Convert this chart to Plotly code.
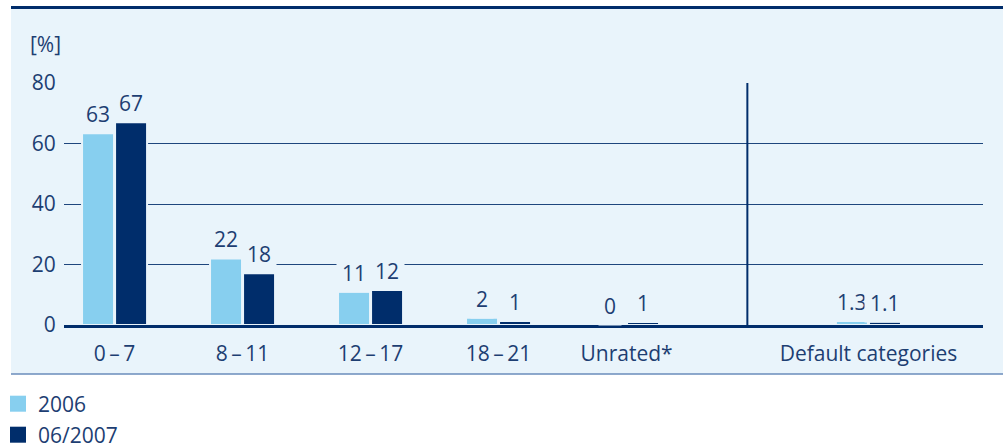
import plotly.graph_objects as go

# ---- data ----
categories = ["0\u2009\u2013\u20097", "8\u2009\u2013\u200911", "12\u2009\u2013\u200917",
              "18\u2009\u2013\u200921", "Unrated*", "Default categories"]
series_names = ["2006", "06/2007"]
values_2006 = [63.4, 22.0, 11.0, 2.4, 0.0, 1.3]
values_2007 = [67.0, 17.1, 11.6, 1.3, 1.0, 1.1]
labels_2006 = ["63", "22", "11", "2", "0", "1.3"]
labels_2007 = ["67", "18", "12", "1", "1", "1.1"]
y_ticks = [0, 20, 40, 60, 80]
y_unit = "[%]"

# ---- layout / style ----
x_positions = [0, 1, 2, 3, 4, 5.89]
separator_x = 4.944
LIGHT = "#87CFEF"
DARK = "#002D6B"
PANEL = "#E9F4FB"
TEXT = "#1D3E72"
GRID = "#1E467D"
FONT = "Open Sans"
FS = 21
BAR_W = 0.25
OFF_L = -0.254
OFF_D = 0.004

W, H = 1003, 448
ML, MR, MT, MB = 64, 20, 83, 123
pw = W - ML - MR
ph = H - MT - MB


def px_x(px):
    return (px - ML) / pw


def px_y(py):
    return (H - MB - py) / ph


def outline_widths(vals):
    return [0 if v == 0 else 2 for v in vals]


fig = go.Figure()
fig.add_bar(x=x_positions, y=values_2006, width=BAR_W, offset=OFF_L, name=series_names[0],
            marker=dict(color=LIGHT, line=dict(color=PANEL, width=outline_widths(values_2006))),
            showlegend=False, hoverinfo="skip")
fig.add_bar(x=x_positions, y=values_2007, width=BAR_W, offset=OFF_D, name=series_names[1],
            marker=dict(color=DARK, line=dict(color=PANEL, width=outline_widths(values_2007))),
            showlegend=False, hoverinfo="skip")

annotations = []
for xs, vals, labs, off in [(x_positions, values_2006, labels_2006, OFF_L),
                            (x_positions, values_2007, labels_2007, OFF_D)]:
    for x, v, t in zip(xs, vals, labs):
        annotations.append(dict(x=x + off + BAR_W / 2, y=v, xref="x", yref="y", text=t,
                                showarrow=False, yanchor="bottom", yshift=-1,
                                bgcolor=PANEL, borderpad=5,
                                font=dict(family=FONT, size=FS, color=TEXT)))
annotations.append(dict(x=px_x(28), y=px_y(44), xref="paper", yref="paper", text=y_unit,
                        showarrow=False, xanchor="left", yanchor="middle",
                        font=dict(family=FONT, size=FS, color=TEXT)))

shapes = [
    dict(type="rect", xref="paper", yref="paper", x0=px_x(11), x1=px_x(1004),
         y0=px_y(374), y1=px_y(9), fillcolor=PANEL, line=dict(width=0), layer="below"),
    dict(type="line", xref="paper", yref="paper", x0=px_x(11), x1=px_x(1004),
         y0=px_y(7.5), y1=px_y(7.5), line=dict(color=DARK, width=3)),
    dict(type="line", xref="paper", yref="paper", x0=px_x(11), x1=px_x(1004),
         y0=px_y(374), y1=px_y(374), line=dict(color="#6A8CBB", width=1.5)),
    dict(type="line", xref="x", yref="y", x0=separator_x, x1=separator_x,
         y0=0, y1=y_ticks[-1], line=dict(color=DARK, width=2)),
]

# manual legend (squares + labels) below the panel
legend_rows = [403.7, 434.7]
for nm, col, cy in zip(series_names, [LIGHT, DARK], legend_rows):
    shapes.append(dict(type="rect", xref="paper", yref="paper",
                       x0=px_x(10), x1=px_x(26), y0=px_y(cy + 8), y1=px_y(cy - 8),
                       fillcolor=col, line=dict(width=0)))
    annotations.append(dict(x=px_x(36), y=px_y(cy), xref="paper", yref="paper", text=nm,
                            showarrow=False, xanchor="left", yanchor="middle",
                            font=dict(family=FONT, size=FS, color=TEXT)))

fig.update_layout(
    width=W, height=H, autosize=False,
    margin=dict(l=ML, r=MR, t=MT, b=MB, pad=0),
    paper_bgcolor="white", plot_bgcolor="rgba(0,0,0,0)",
    barmode="overlay",
    font=dict(family=FONT, size=FS, color=TEXT),
    annotations=annotations, shapes=shapes,
    showlegend=False,
)
fig.update_xaxes(range=[-0.395, 6.785], tickmode="array", tickvals=x_positions,
                 ticktext=categories, showgrid=False, zeroline=False,
                 showline=True, linecolor=DARK, linewidth=2.5,
                 ticks="outside", ticklen=8, tickcolor="rgba(0,0,0,0)",
                 tickfont=dict(family=FONT, size=FS, color=TEXT), fixedrange=True)
fig.update_yaxes(range=[0, y_ticks[-1]], tickmode="array", tickvals=y_ticks,
                 showgrid=True, gridcolor=GRID, gridwidth=1.3, zeroline=False,
                 showline=False, ticks="outside", ticklen=3, tickcolor="rgba(0,0,0,0)",
                 tickfont=dict(family=FONT, size=FS, color=TEXT), fixedrange=True)

fig.write_html("out.html")
